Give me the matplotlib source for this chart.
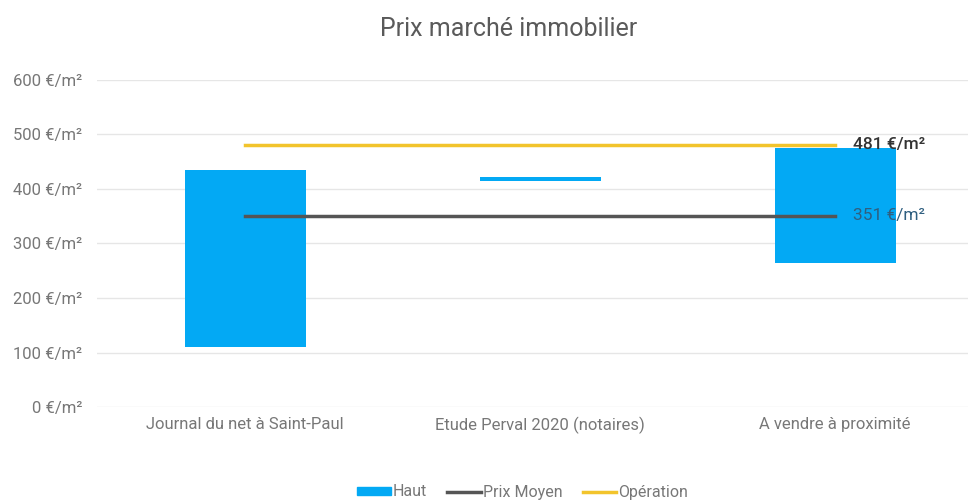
import numpy as np
import matplotlib
matplotlib.use('Agg')
from matplotlib import pyplot as plt
from matplotlib.patches import Patch
from matplotlib.lines import Line2D

plt.rcParams['font.family'] = ['Roboto', 'DejaVu Sans']

categories = ['Journal du net à Saint-Paul', 'Etude Perval 2020 (notaires)', 'A vendre à proximité']
bas = [110, 415, 265]
haut = [435, 422, 475]
prix_moyen = [351, 351, 351]
operation = [481, 481, 481]
yticks = [0, 100, 200, 300, 400, 500, 600]

blue = '#03a9f4'
grey = '#555555'
yellow = '#f2c42c'

fig = plt.figure(figsize=(9.68, 5), dpi=100)
ax = fig.add_axes([0.1007, 0.186, 0.8993, 0.654])

x = np.arange(len(categories))
ax.bar(x, np.array(haut) - np.array(bas), bottom=bas, width=0.41, color=blue, zorder=2)
ax.plot(x, prix_moyen, color=grey, lw=2.5, zorder=3)
ax.plot(x, operation, color=yellow, lw=2.5, zorder=3)

ax.text(x[-1] + 0.06, operation[-1], f'{operation[-1]} €/m²', va='center', ha='left',
        fontsize=12.5, color='#333333', fontweight='medium', zorder=4)
ax.text(x[-1] + 0.06, prix_moyen[-1], f'{prix_moyen[-1]} €/m²', va='center', ha='left',
        fontsize=12.5, color='#2f5f80', zorder=4)

ax.set_xlim(-0.5, 2.45)
ax.set_ylim(0, 600)
ax.set_yticks(yticks)
ax.set_yticklabels([f'{v} €/m²' for v in yticks])
ax.set_xticks(x)
ax.set_xticklabels(categories)
ax.tick_params(axis='both', length=0, labelsize=12, labelcolor='#777777')
ax.tick_params(axis='y', pad=11)
ax.tick_params(axis='x', pad=7)
ax.grid(axis='y', color='#e6e6e6', lw=1, zorder=0)
for s in ax.spines.values():
    s.set_visible(False)

fig.suptitle('Prix marché immobilier', x=0.525, y=0.965, fontsize=18, color='#5a5a5a')

handles = [Patch(color=blue), Line2D([], [], color=grey, lw=2.5), Line2D([], [], color=yellow, lw=2.5)]
fig.legend(handles, ['Haut', 'Prix Moyen', 'Opération'], loc='center', bbox_to_anchor=(0.54, 0.016),
           ncol=3, frameon=False, fontsize=11.5, labelcolor='#777777', handlelength=2.1,
           handleheight=0.45, handletextpad=0.15, columnspacing=1.25)

plt.savefig('out.png', dpi=100)
